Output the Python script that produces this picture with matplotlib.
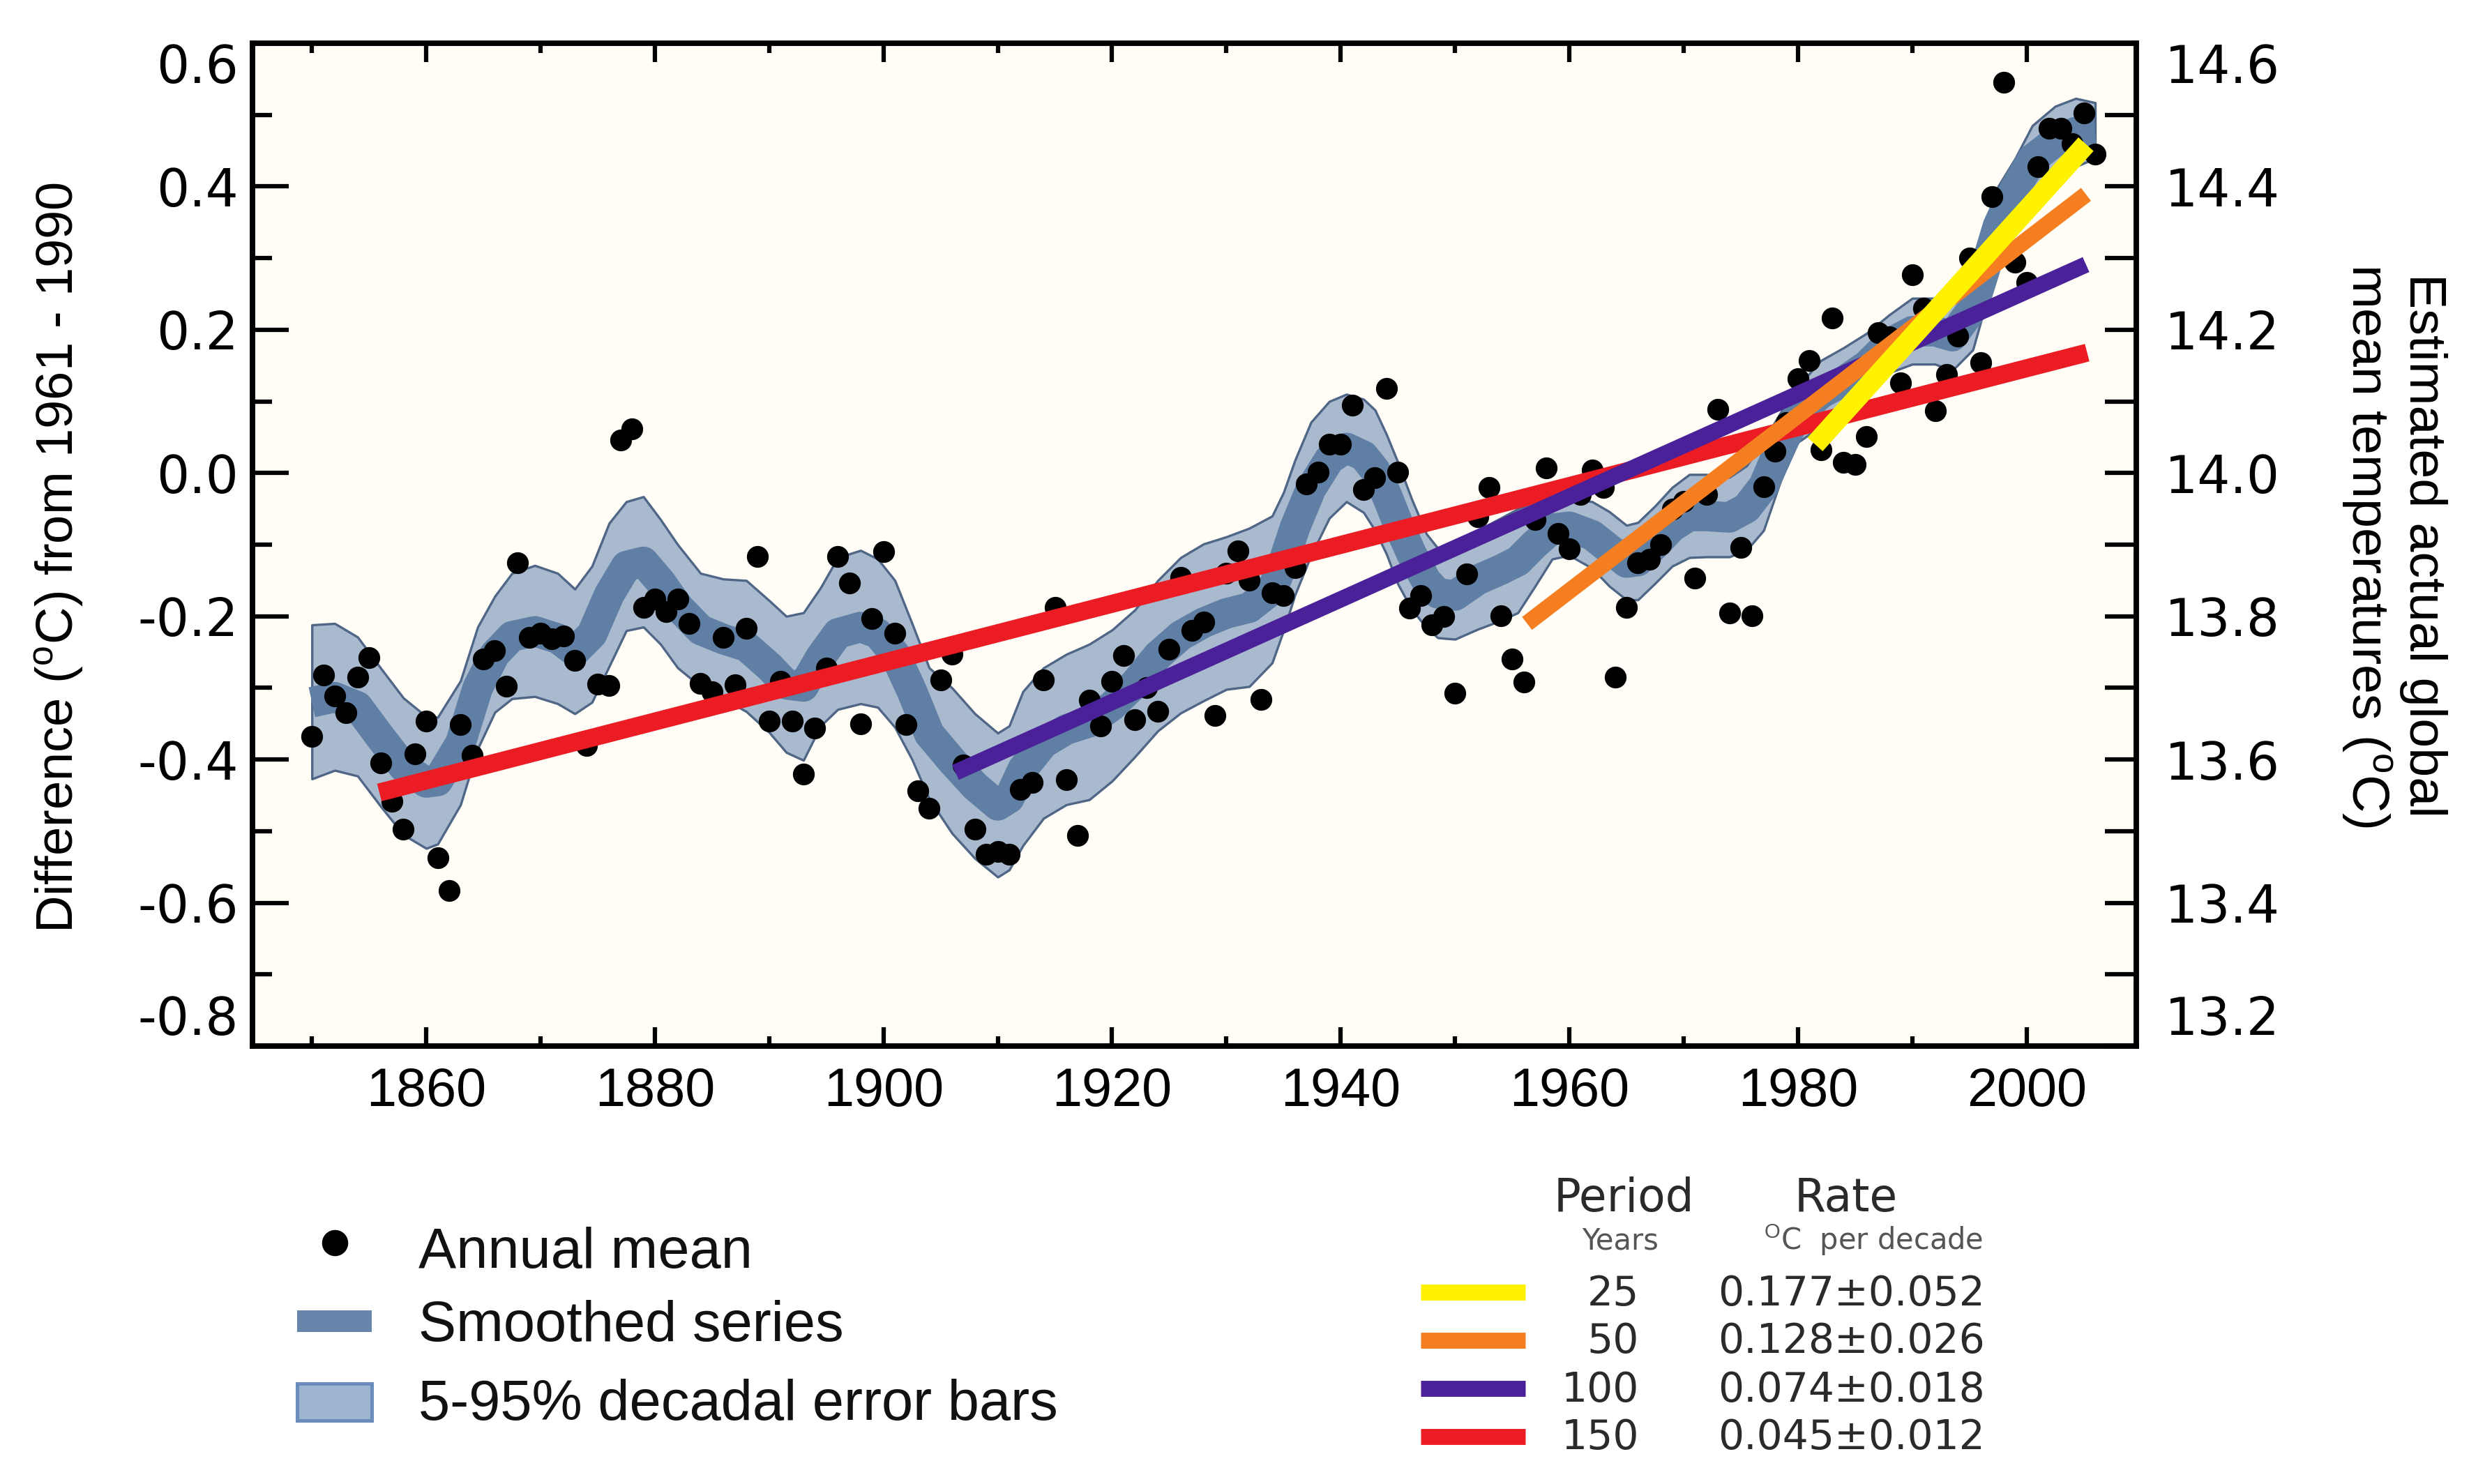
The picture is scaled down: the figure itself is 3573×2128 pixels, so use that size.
import numpy as np
import matplotlib
matplotlib.use('Agg')
import matplotlib.pyplot as plt
from matplotlib.patches import Rectangle
from matplotlib.ticker import MultipleLocator, FixedLocator

plt.rcParams['font.family'] = ['Liberation Sans', 'DejaVu Sans']
plt.rcParams['mathtext.fontset'] = 'custom'
plt.rcParams['mathtext.rm'] = 'Liberation Sans'

# ---------------- data ----------------
years = np.arange(1850, 2007)
annual_mean = [
    -0.368, -0.282, -0.311, -0.335, -0.285, -0.258, -0.405, -0.458, -0.497, -0.392,
    -0.346, -0.537, -0.583, -0.351, -0.394, -0.260, -0.248, -0.298, -0.125, -0.229,
    -0.224, -0.231, -0.228, -0.262, -0.380, -0.295, -0.297, 0.046, 0.062, -0.188,
    -0.176, -0.193, -0.176, -0.210, -0.294, -0.305, -0.229, -0.296, -0.217, -0.117,
    -0.346, -0.291, -0.346, -0.420, -0.356, -0.272, -0.117, -0.154, -0.350, -0.203,
    -0.110, -0.224, -0.351, -0.444, -0.468, -0.289, -0.253, -0.408, -0.497, -0.532,
    -0.528, -0.532, -0.442, -0.432, -0.289, -0.188, -0.428, -0.506, -0.317, -0.353,
    -0.291, -0.255, -0.344, -0.300, -0.333, -0.246, -0.146, -0.220, -0.208, -0.339,
    -0.140, -0.109, -0.150, -0.316, -0.167, -0.171, -0.132, -0.015, 0.001, 0.040,
    0.040, 0.095, -0.023, -0.007, 0.118, 0.001, -0.189, -0.171, -0.212, -0.200,
    -0.307, -0.141, -0.061, -0.020, -0.199, -0.260, -0.292, -0.065, 0.007, -0.084,
    -0.106, -0.030, 0.004, -0.020, -0.285, -0.188, -0.125, -0.120, -0.100, -0.050,
    -0.040, -0.147, -0.030, 0.089, -0.195, -0.104, -0.199, -0.019, 0.030, 0.070,
    0.132, 0.157, 0.032, 0.216, 0.015, 0.012, 0.051, 0.196, 0.190, 0.126,
    0.277, 0.230, 0.087, 0.138, 0.191, 0.300, 0.154, 0.386, 0.545, 0.294,
    0.266, 0.428, 0.481, 0.481, 0.460, 0.503, 0.445,
]

smooth_years = [
    1850, 1852, 1854, 1856, 1858, 1860, 1861, 1863, 1864.5, 1866, 1867.5, 1869.5,
    1871.5, 1873, 1874.5, 1876, 1877.5, 1879, 1880.5, 1882, 1884, 1886, 1888, 1890,
    1891.5, 1893, 1894.5, 1896, 1898, 1899.5, 1901, 1902.5, 1904, 1906, 1908, 1910,
    1911, 1912.2, 1914, 1916, 1918, 1920, 1922, 1924, 1926, 1928, 1930, 1932, 1934,
    1935, 1936, 1937.4, 1939, 1940.5, 1942, 1943, 1944, 1945, 1946.2, 1947.5, 1948.5,
    1950, 1952, 1954, 1955.5, 1957, 1958.5, 1960, 1962, 1963.5, 1965, 1966, 1967.5,
    1969, 1970.5, 1972, 1974, 1975.5, 1977, 1978.5, 1980, 1982, 1984, 1986, 1988,
    1990, 1992, 1993.5, 1995.3, 1996.5, 1997.5, 1999, 2000.5, 2002.5, 2004.3, 2006,
]
smooth_series = [
    -0.320, -0.313, -0.326, -0.369, -0.410, -0.432, -0.430, -0.377, -0.300, -0.253,
    -0.228, -0.221, -0.231, -0.249, -0.225, -0.170, -0.130, -0.124, -0.152, -0.186,
    -0.219, -0.232, -0.242, -0.270, -0.295, -0.298, -0.257, -0.224, -0.215, -0.224,
    -0.253, -0.305, -0.364, -0.402, -0.437, -0.464, -0.454, -0.413, -0.377, -0.358,
    -0.348, -0.325, -0.294, -0.255, -0.227, -0.209, -0.196, -0.188, -0.163, -0.124,
    -0.076, -0.022, 0.019, 0.035, 0.024, 0.004, -0.030, -0.070, -0.113, -0.151,
    -0.168, -0.171, -0.149, -0.135, -0.123, -0.099, -0.078, -0.075, -0.087, -0.106,
    -0.125, -0.123, -0.100, -0.075, -0.060, -0.060, -0.062, -0.049, -0.018, 0.038,
    0.082, 0.111, 0.128, 0.150, 0.181, 0.198, 0.198, 0.191, 0.230, 0.292,
    0.345, 0.397, 0.438, 0.463, 0.476, 0.478,
]
band_upper = [
    -0.212, -0.210, -0.229, -0.272, -0.314, -0.340, -0.341, -0.290, -0.215, -0.172,
    -0.140, -0.129, -0.140, -0.162, -0.130, -0.070, -0.040, -0.033, -0.065, -0.100,
    -0.140, -0.148, -0.150, -0.178, -0.200, -0.195, -0.160, -0.118, -0.108, -0.120,
    -0.150, -0.210, -0.272, -0.300, -0.336, -0.363, -0.353, -0.305, -0.272, -0.253,
    -0.239, -0.219, -0.191, -0.150, -0.118, -0.099, -0.089, -0.077, -0.060, -0.027,
    0.018, 0.071, 0.100, 0.110, 0.103, 0.088, 0.054, 0.015, -0.036, -0.085,
    -0.105, -0.110, -0.080, -0.063, -0.050, -0.040, -0.035, -0.035, -0.040, -0.054,
    -0.073, -0.069, -0.046, -0.020, -0.002, -0.002, -0.006, 0.010, 0.045, 0.085,
    0.121, 0.157, 0.175, 0.195, 0.221, 0.244, 0.244, 0.239, 0.288, 0.344,
    0.400, 0.439, 0.485, 0.512, 0.523, 0.517,
]
band_lower = [
    -0.427, -0.415, -0.423, -0.465, -0.505, -0.524, -0.518, -0.463, -0.385, -0.334,
    -0.315, -0.312, -0.322, -0.336, -0.320, -0.270, -0.220, -0.215, -0.239, -0.272,
    -0.298, -0.315, -0.333, -0.362, -0.390, -0.401, -0.353, -0.330, -0.322, -0.327,
    -0.355, -0.400, -0.455, -0.503, -0.538, -0.564, -0.554, -0.520, -0.482, -0.463,
    -0.456, -0.430, -0.396, -0.360, -0.335, -0.318, -0.302, -0.298, -0.265, -0.220,
    -0.170, -0.115, -0.063, -0.040, -0.055, -0.080, -0.113, -0.155, -0.190, -0.216,
    -0.230, -0.232, -0.218, -0.206, -0.195, -0.158, -0.120, -0.115, -0.133, -0.158,
    -0.177, -0.177, -0.154, -0.130, -0.118, -0.117, -0.117, -0.108, -0.080, -0.010,
    0.043, 0.065, 0.080, 0.105, 0.140, 0.152, 0.152, 0.143, 0.172, 0.240,
    0.290, 0.355, 0.390, 0.414, 0.428, 0.439,
]

trend_periods = ['25', '50', '100', '150']
trend_rates = ['0.177\u00b10.052', '0.128\u00b10.026', '0.074\u00b10.018', '0.045\u00b10.012']
trend_start_year = [1981.5, 1956.3, 1906.3, 1855.9]
trend_end_year = [2005.2, 2005.2, 2005.2, 2005.3]
trend_start_val = [0.040, -0.210, -0.418, -0.446]
trend_end_val = [0.459, 0.389, 0.291, 0.168]
trend_colors = ['#FFF200', '#F57E20', '#4A2199', '#EC1C24']
trend_widths = [7.0, 5.6, 5.6, 6.2]

left_ticks = [-0.8, -0.6, -0.4, -0.2, 0.0, 0.2, 0.4, 0.6]
left_tick_labels = ['-0.8', '-0.6', '-0.4', '-0.2', '0.0', '0.2', '0.4', '0.6']
right_ticks = [13.2, 13.4, 13.6, 13.8, 14.0, 14.2, 14.4, 14.6]
right_tick_labels = ['13.2', '13.4', '13.6', '13.8', '14.0', '14.2', '14.4', '14.6']

# ---------------- figure ----------------
W, H = 3573, 2128
DPI = 300
fig = plt.figure(figsize=(W / DPI, H / DPI), dpi=DPI, facecolor='white')
ax = fig.add_axes([362 / W, 1 - 1500 / H, (3063 - 362) / W, (1500 - 62) / H])
ax.set_facecolor('#FFFDF5')

ax.fill_between(smooth_years, band_lower, band_upper, facecolor='#A9B9CE',
                edgecolor='#4F6687', linewidth=0.8, zorder=1)
ax.plot(smooth_years, smooth_series, color='#5F7FA5', linewidth=10.5,
        solid_capstyle='butt', solid_joinstyle='round', zorder=2)
ax.plot(years, annual_mean, 'o', color='black', markersize=6.5, zorder=3)

for i in [3, 2, 1, 0]:
    ax.plot([trend_start_year[i], trend_end_year[i]], [trend_start_val[i], trend_end_val[i]],
            color=trend_colors[i], linewidth=trend_widths[i], solid_capstyle='butt',
            zorder=4 + (3 - i))

ax.set_xlim(1844.8, 2009.6)
ax.set_ylim(-0.8, 0.6)
ax.xaxis.set_major_locator(MultipleLocator(20))
ax.xaxis.set_minor_locator(MultipleLocator(10))
ax.yaxis.set_major_locator(FixedLocator(left_ticks))
ax.yaxis.set_minor_locator(MultipleLocator(0.1))
ax.set_yticklabels(left_tick_labels)

ax.tick_params(axis='x', which='major', direction='in', length=6.5, width=1.5,
               top=True, labelsize=18.6, pad=7, labelfontfamily='Liberation Sans')
ax.tick_params(axis='x', which='minor', direction='in', length=3.4, width=1.5, top=True)
ax.tick_params(axis='y', which='major', direction='in', length=12.5, width=1.5,
               labelsize=17.8, pad=4.8, labelfontfamily='DejaVu Sans')
ax.tick_params(axis='y', which='minor', direction='in', length=6.7, width=1.5)
for s in ax.spines.values():
    s.set_linewidth(1.8)

for t in ax.get_yticklabels():
    if t.get_text() == '0.6':
        t.set_va('top')
    elif t.get_text() == '-0.8':
        t.set_va('bottom')

ax2 = ax.twinx()
ax2.set_ylim(13.2, 14.6)
ax2.yaxis.set_major_locator(FixedLocator(right_ticks))
ax2.yaxis.set_minor_locator(MultipleLocator(0.1))
ax2.set_yticklabels(right_tick_labels)
ax2.tick_params(axis='y', which='major', direction='in', length=10.8, width=1.5,
                labelsize=17.8, pad=9.8, labelfontfamily='DejaVu Sans')
ax2.tick_params(axis='y', which='minor', direction='in', length=10.8, width=1.5)
for s in ax2.spines.values():
    s.set_linewidth(1.8)
for t in ax2.get_yticklabels():
    if t.get_text() == '14.6':
        t.set_va('top')
    elif t.get_text() == '13.2':
        t.set_va('bottom')

fig.text(84 / W, 1 - 799 / H, r'Difference ($^{\mathrm{o}}$C) from 1961 - 1990',
         rotation=90, fontsize=17.8, ha='center', va='center')
fig.text(3432 / W, 1 - 782 / H,
         'Estimated actual global\nmean temperatures ($^{\\mathrm{o}}$C)',
         rotation=270, fontsize=18.1, ha='center', va='center',
         multialignment='center', linespacing=1.15)

# ---------------- legends (pixel overlay) ----------------
lax = fig.add_axes([0, 0, 1, 1], zorder=10)
lax.set_xlim(0, W)
lax.set_ylim(H, 0)
lax.axis('off')
lax.patch.set_visible(False)

lax.plot([479.5], [1782], 'o', color='black', markersize=8)
lax.add_patch(Rectangle((426, 1879), 107, 31, facecolor='#6886AC', edgecolor='none'))
lax.add_patch(Rectangle((426, 1984), 107, 53, facecolor='#9DB4D3',
                        edgecolor='#6A8DBB', linewidth=1.2))
legend_labels = ['Annual mean', 'Smoothed series', '5-95% decadal error bars']
legend_baselines = [1818, 1923, 2036]
for lbl, yb in zip(legend_labels, legend_baselines):
    lax.text(600, yb, lbl, fontsize=19.5, ha='left', va='baseline', color='#111111')

tfont = 'DejaVu Sans'
lax.text(2328, 1737, 'Period', fontsize=15.5, ha='center', va='baseline',
         family=tfont, color='#2A2A2A')
lax.text(2647, 1737, 'Rate', fontsize=15.5, ha='center', va='baseline',
         family=tfont, color='#2A2A2A')
lax.text(2323, 1792, 'Years', fontsize=10, ha='center', va='baseline',
         family=tfont, color='#555555')
lax.text(2686, 1792, r'$^{\mathrm{O}}$C  per decade', fontsize=10, ha='center',
         va='baseline', family=tfont, color='#555555')

row_baselines = [1872, 1940, 2010, 2078]
row_line_y = [1853, 1922, 1991, 2060]
for i in range(4):
    lax.plot([2037, 2187], [row_line_y[i], row_line_y[i]], color=trend_colors[i],
             linewidth=5.5, solid_capstyle='butt')
    lax.text(2350, row_baselines[i], trend_periods[i], fontsize=14, ha='right',
             va='baseline', family=tfont, color='#2A2A2A')
    lax.text(2463, row_baselines[i], trend_rates[i], fontsize=14, ha='left',
             va='baseline', family=tfont, color='#2A2A2A')

fig.savefig('out.png', dpi=DPI, facecolor='white')
